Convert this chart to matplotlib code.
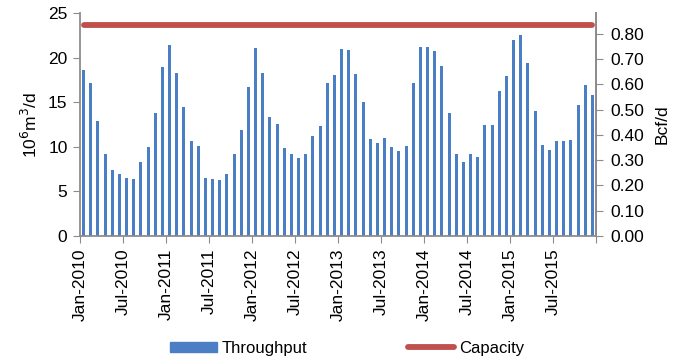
import matplotlib
matplotlib.use("Agg")
import matplotlib.pyplot as plt
from matplotlib.patches import Patch
from matplotlib.lines import Line2D
import numpy as np

plt.rcParams['font.family'] = ['Liberation Sans', 'DejaVu Sans']

# Monthly throughput, Jan-2010 .. Dec-2015 (10^6 m3/d)
throughput = [
    18.6, 17.2, 12.9, 9.2, 7.4, 7.0, 6.5, 6.4, 8.3, 10.0, 13.8, 19.0,   # 2010
    21.4, 18.3, 14.5, 10.7, 10.1, 6.5, 6.4, 6.3, 7.0, 9.2, 11.9, 16.7,  # 2011
    21.1, 18.3, 13.3, 12.6, 9.9, 9.2, 8.8, 9.2, 11.2, 12.3, 17.1, 18.1, # 2012
    21.0, 20.9, 18.2, 15.0, 10.9, 10.4, 11.0, 10.0, 9.5, 10.1, 17.2, 21.2, # 2013
    21.2, 20.7, 19.1, 13.8, 9.2, 8.3, 9.2, 8.9, 12.4, 12.5, 16.2, 17.9, # 2014
    22.0, 22.5, 19.4, 14.0, 10.2, 9.6, 10.7, 10.7, 10.8, 14.7, 16.9, 15.8, # 2015
]
capacity = [23.6] * 72
tick_labels = ["Jan-2010", "Jul-2010", "Jan-2011", "Jul-2011", "Jan-2012", "Jul-2012",
               "Jan-2013", "Jul-2013", "Jan-2014", "Jul-2014", "Jan-2015", "Jul-2015", ""]

bar_color = "#4a7fc6"
line_color = "#c0504d"
spine_color = "#8c8c8c"
fs = 12.5

fig = plt.figure(figsize=(6.85, 3.62), dpi=100)
ax = fig.add_axes([80/685, 1 - 236/362, 516/685, 223/362])

x = np.arange(len(throughput)) + 0.5
ax.bar(x, throughput, width=0.42, color=bar_color, zorder=2)
ax.plot(x, capacity, color=line_color, lw=4.2, solid_capstyle='round', zorder=3)

ax.set_xlim(0, 72)
ax.set_ylim(0, 25)
ax.set_yticks([0, 5, 10, 15, 20, 25])
ax.set_xticks(np.arange(0, 73, 6))
ax.set_xticklabels(tick_labels, rotation=90, fontsize=fs)
ax.tick_params(axis='y', labelsize=fs, length=5, color=spine_color, direction='out', pad=4)
ax.tick_params(axis='x', length=5, color=spine_color, direction='out', pad=4)
ax.set_ylabel("10$^6$m$^3$/d", fontsize=fs, labelpad=6)

ax.spines['top'].set_visible(False)
for s in ['left', 'bottom', 'right']:
    ax.spines[s].set_color(spine_color)
    ax.spines[s].set_linewidth(1.3)

ax2 = ax.twinx()
ax2.set_ylim(0, 25 / 28.32)
ax2.set_yticks(np.arange(0, 0.81, 0.1))
ax2.set_yticklabels([f"{v:.2f}" for v in np.arange(0, 0.81, 0.1)])
ax2.tick_params(axis='y', labelsize=fs, length=5, color=spine_color, direction='out', pad=5)
ax2.set_ylabel("Bcf/d", fontsize=fs, labelpad=8)
for s in ['top', 'left', 'bottom']:
    ax2.spines[s].set_visible(False)
ax2.spines['right'].set_color(spine_color)
ax2.spines['right'].set_linewidth(1.3)

handles = [Patch(facecolor=bar_color, edgecolor=bar_color, label="Throughput"),
           Line2D([0], [0], color=line_color, lw=4.2, solid_capstyle='round', label="Capacity")]
fig.legend(handles=handles, loc='center', bbox_to_anchor=(0.507, 0.038), ncol=2,
           frameon=False, fontsize=12, handlelength=2.8, handleheight=0.5,
           columnspacing=6.0, handletextpad=0.3)

fig.savefig("out.png", dpi=100)
